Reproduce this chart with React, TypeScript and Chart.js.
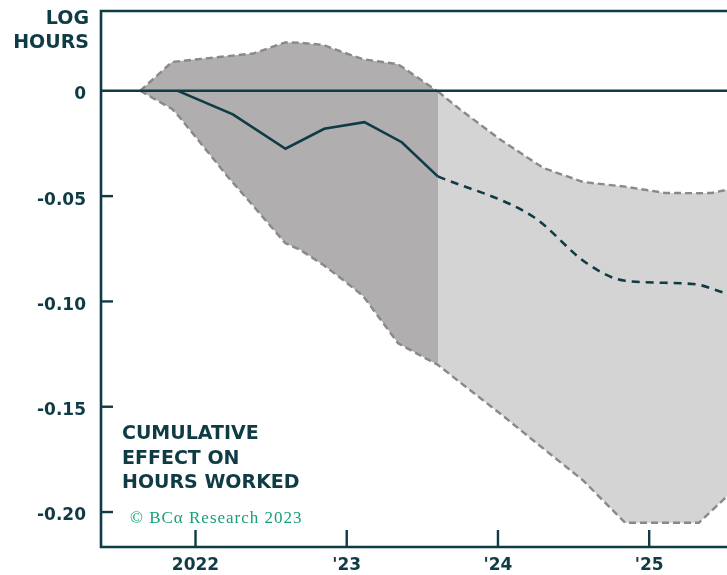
import React, { useEffect, useRef } from "react";
import { Chart, registerables } from "chart.js";

Chart.register(...registerables);

// ---- data (decimal years on x, log hours on y) ----
const meanHistX = [2021.883, 2022.247, 2022.595, 2022.851, 2023.117, 2023.364, 2023.602];
const meanHistY = [0, -0.0112, -0.0275, -0.018, -0.0149, -0.0244, -0.0406];

const meanFcstX = [2023.602, 2024.233, 2024.59, 2024.841, 2025.291, 2025.506, 2025.757];
const meanFcstY = [-0.0406, -0.0598, -0.082, -0.0902, -0.0917, -0.0961, -0.101];

const bandX = [
  2021.634, 2021.845, 2021.898, 2022.216, 2022.381, 2022.593, 2022.692, 2022.844, 2022.976,
  2023.108, 2023.34, 2023.604, 2023.749, 2024.014, 2024.299, 2024.563, 2024.841, 2025.105,
  2025.328, 2025.414, 2025.506, 2025.725,
];
const bandUpper = [
  0, 0.0137, 0.0141, 0.0165, 0.0177, 0.023, 0.0228, 0.0218, 0.0183,
  0.015, 0.0126, -0.0004, -0.0088, -0.0231, -0.0366, -0.0433, -0.0455, -0.0485,
  -0.0486, -0.0485, -0.0471, -0.0436,
];
const bandLower = [
  0, -0.0086, -0.0128, -0.041, -0.0546, -0.0723, -0.0755, -0.0826, -0.0898,
  -0.0974, -0.1199, -0.1302, -0.1384, -0.1532, -0.1698, -0.185, -0.2051, -0.2051,
  -0.2051, -0.1993, -0.1931, -0.178,
];

const forecastStart = 2023.602;

const xTickValues = [2022, 2023, 2024, 2025];
const xTickLabels = ["2022", "'23", "'24", "'25"];
const yTickValues = [0, -0.05, -0.1, -0.15, -0.2];
const yTickLabels = ["0", "-0.05", "-0.10", "-0.15", "-0.20"];

const X_MIN = 2021.375;
const X_MAX = 2025.5146;
const Y_MIN = -0.2166;
const Y_MAX = 0.0379;

// ---- styles ----
const TEAL = "#0f3b45";
const DARK_FILL = "#b0aeaf";
const LIGHT_FILL = "#d4d4d4";
const BAND_LINE = "#898989";
const GREEN = "#16a07a";
const FONT = "'DejaVu Sans', Lato, sans-serif";

const toPts = (xs: number[], ys: number[]) => xs.map((x, i) => ({ x, y: ys[i] }));

const framePlugin = {
  id: "frame",
  afterDatasetsDraw(chart: any) {
    const { ctx, chartArea: a, scales } = chart;
    const x = scales.x;
    const y = scales.y;
    ctx.save();
    ctx.strokeStyle = TEAL;
    ctx.lineWidth = 2.6;
    ctx.setLineDash([]);
    // zero reference line
    const y0 = y.getPixelForValue(0);
    ctx.beginPath();
    ctx.moveTo(a.left, y0);
    ctx.lineTo(a.right + 5, y0);
    ctx.stroke();
    // frame: top, left, bottom
    ctx.beginPath();
    ctx.moveTo(a.right + 5, a.top);
    ctx.lineTo(a.left, a.top);
    ctx.lineTo(a.left, a.bottom);
    ctx.lineTo(a.right + 5, a.bottom);
    ctx.stroke();
    // inward tick marks
    ctx.lineWidth = 2.4;
    yTickValues.forEach((v) => {
      if (v === 0) return;
      const py = y.getPixelForValue(v);
      ctx.beginPath();
      ctx.moveTo(a.left, py);
      ctx.lineTo(a.left + 12, py);
      ctx.stroke();
    });
    xTickValues.forEach((v) => {
      const px = x.getPixelForValue(v);
      ctx.beginPath();
      ctx.moveTo(px, a.bottom);
      ctx.lineTo(px, a.bottom - 17);
      ctx.stroke();
    });
    ctx.restore();
  },
};

export default function App() {
  const ref = useRef<HTMLCanvasElement>(null);

  useEffect(() => {
    if (!ref.current) return;
    const chart = new Chart(ref.current, {
      type: "line",
      data: {
        datasets: [
          {
            label: "Mean (history)",
            data: toPts(meanHistX, meanHistY),
            borderColor: TEAL,
            borderWidth: 2.6,
            pointRadius: 0,
            fill: false,
            tension: 0,
          },
          {
            label: "Mean (projection)",
            data: toPts(meanFcstX, meanFcstY),
            borderColor: TEAL,
            borderWidth: 2.6,
            borderDash: [8, 6],
            pointRadius: 0,
            fill: false,
            cubicInterpolationMode: "monotone",
          },
          {
            label: "Upper bound",
            data: toPts(bandX, bandUpper),
            borderColor: BAND_LINE,
            borderWidth: 2.4,
            borderDash: [7, 4],
            pointRadius: 0,
            backgroundColor: DARK_FILL,
            fill: "+1",
            segment: {
              backgroundColor: (c: any) => (c.p0.parsed.x < forecastStart - 1e-6 ? DARK_FILL : LIGHT_FILL),
            },
          },
          {
            label: "Lower bound",
            data: toPts(bandX, bandLower),
            borderColor: BAND_LINE,
            borderWidth: 2.4,
            borderDash: [7, 4],
            pointRadius: 0,
            fill: false,
          },
        ],
      },
      options: {
        responsive: false,
        animation: false,
        devicePixelRatio: 1,
        layout: { padding: { top: 11, left: 0, right: 0, bottom: 0 } },
        plugins: {
          legend: { display: false },
          tooltip: { enabled: false },
          filler: { drawTime: "beforeDatasetsDraw" },
        },
        scales: {
          x: {
            type: "linear",
            min: X_MIN,
            max: X_MAX,
            grid: { display: false, drawTicks: false },
            border: { display: false },
            afterBuildTicks: (s: any) => {
              s.ticks = xTickValues.map((value) => ({ value }));
            },
            afterFit: (s: any) => {
              s.height = 28;
              s.paddingLeft = 0;
              s.paddingRight = 0;
            },
            ticks: {
              padding: 8,
              color: TEAL,
              maxRotation: 0,
              autoSkip: false,
              font: { family: FONT, size: 17, weight: "bold" },
              callback: (v: any) => {
                const i = xTickValues.indexOf(Number(v));
                return i >= 0 ? xTickLabels[i] : "";
              },
            },
          },
          y: {
            type: "linear",
            min: Y_MIN,
            max: Y_MAX,
            grid: { display: false, drawTicks: false },
            border: { display: false },
            afterBuildTicks: (s: any) => {
              s.ticks = yTickValues.map((value) => ({ value }));
            },
            afterFit: (s: any) => {
              s.width = 101;
              s.paddingTop = 0;
              s.paddingBottom = 0;
            },
            ticks: {
              padding: 15,
              labelOffset: 4,
              color: TEAL,
              autoSkip: false,
              font: { family: FONT, size: 17, weight: "bold" },
              callback: (v: any) => {
                const i = yTickValues.findIndex((t) => Math.abs(t - Number(v)) < 1e-9);
                return i >= 0 ? yTickLabels[i] : "";
              },
            },
          },
        },
      },
      plugins: [framePlugin],
    } as any);
    return () => chart.destroy();
  }, []);

  return (
    <div
      style={{
        position: "absolute",
        left: 0,
        top: 0,
        width: 727,
        height: 575,
        overflow: "hidden",
        background: "#fff",
      }}
    >
      <canvas ref={ref} width={727} height={575} style={{ display: "block", width: 727, height: 575 }} />
      <div
        style={{
          position: "absolute",
          left: 0,
          top: 5,
          width: 89,
          textAlign: "right",
          fontFamily: FONT,
          fontWeight: 700,
          fontSize: 19,
          lineHeight: "24.3px",
          color: TEAL,
        }}
      >
        LOG
        <br />
        HOURS
      </div>
      <div
        style={{
          position: "absolute",
          left: 122,
          top: 420,
          fontFamily: FONT,
          fontWeight: 700,
          fontSize: 19,
          lineHeight: "24.5px",
          color: TEAL,
          whiteSpace: "nowrap",
        }}
      >
        CUMULATIVE
        <br />
        EFFECT ON
        <br />
        HOURS WORKED
      </div>
      <div
        style={{
          position: "absolute",
          left: 130,
          top: 508,
          fontFamily: "'Liberation Serif', 'DejaVu Serif', serif",
          fontSize: 17,
          lineHeight: "20px",
          letterSpacing: "1px",
          color: GREEN,
          whiteSpace: "nowrap",
        }}
      >
        © BCα Research 2023
      </div>
    </div>
  );
}
